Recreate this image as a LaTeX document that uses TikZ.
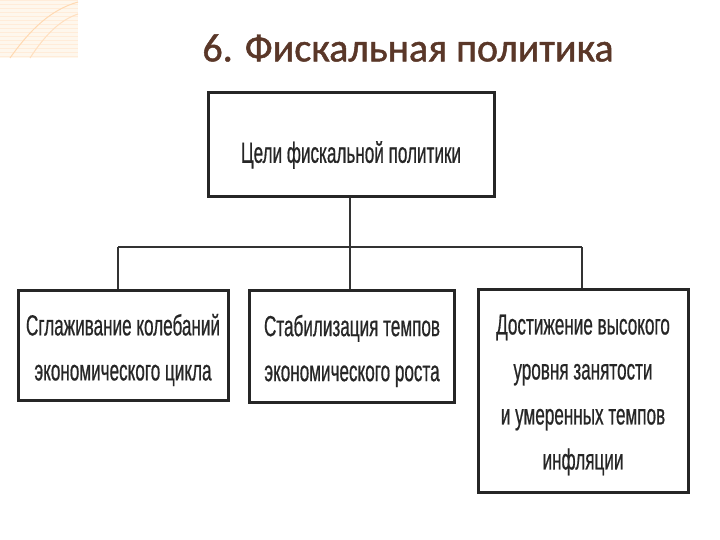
\documentclass[tikz,border=0pt]{standalone}
\usepackage{fontspec}
\setmainfont{Liberation Sans}
\newfontfamily\titlefont{Carlito}[FakeBold=1.2]
\newfontfamily\boxfont{Liberation Sans}[FakeStretch=0.59,FakeBold=0.6]
\begin{document}
\begin{tikzpicture}[x=1pt,y=-1pt,
  box/.style={draw=black!85,line width=3pt,inner sep=0pt},
  conn/.style={draw=black!80,line width=1.8pt},
  lbl/.style={font=\boxfont\fontsize{29}{45}\selectfont,align=center,text=black!85}]
\useasboundingbox (0,0) rectangle (720,540);
\fill[white] (0,0) rectangle (720,540);
% corner decoration
\fill[yellow!8!orange!6] (0,0) rectangle (78,58);
\foreach \i in {0,4,...,56} \draw[orange!15,line width=0.4pt] (0,\i) -- (78,\i);
\draw[orange!30,line width=1pt] (10,58) .. controls (30,30) and (50,10) .. (78,2);
\draw[orange!25,line width=1pt] (30,58) .. controls (45,35) and (60,20) .. (78,14);
\node[font=\titlefont\fontsize{40}{44}\selectfont,text={rgb,255:red,90;green,55;blue,40}] (title) at (408,48) {6. Фискальная политика};
\node[box,minimum width=286pt,minimum height=104pt] (top) at (351,145) {};
\node[lbl] at ([yshift=-10pt]top.center) {Цели фискальной политики};
\node[box,minimum width=210pt,minimum height=110pt] (b1) at (123,345) {};
\node[lbl] at ([yshift=-5pt]b1.center) {Сглаживание колебаний\\экономического цикла};
\node[box,minimum width=205pt,minimum height=112pt] (b2) at (352,346) {};
\node[lbl] at ([yshift=-5pt]b2.center) {Стабилизация темпов\\экономического роста};
\node[box,minimum width=210pt,minimum height=203pt] (b3) at (583,391) {};
\node[lbl] at ([yshift=-4pt]b3.center) {Достижение высокого\\уровня занятости\\и умеренных темпов\\инфляции};
\coordinate (h1) at (118,247);
\coordinate (h2) at (582,247);
\coordinate (hm) at (350,247);
\draw[conn] (h1) -- (h2);
\draw[conn] (top.south -| hm) -- (hm);
\draw[conn] (h1) -- (h1 |- b1.north);
\draw[conn] (hm) -- (hm |- b2.north);
\draw[conn] (h2) -- (h2 |- b3.north);
\end{tikzpicture}
\end{document}
